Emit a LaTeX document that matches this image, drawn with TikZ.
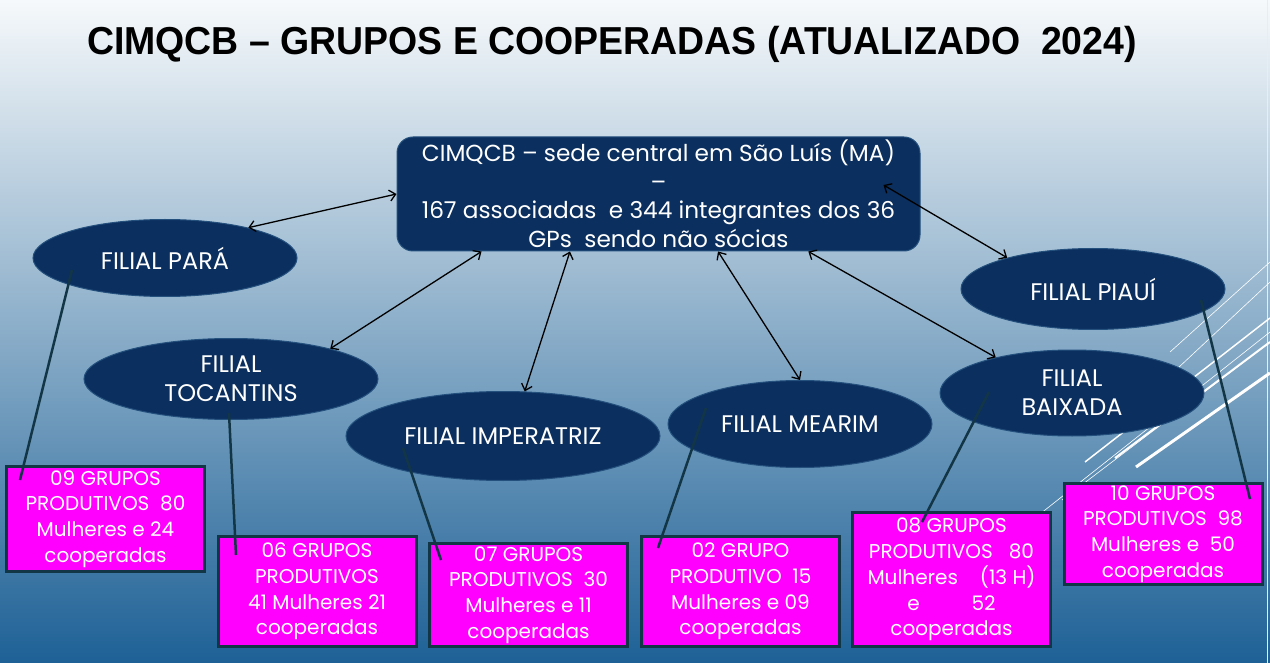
\documentclass[tikz,border=0pt]{standalone}
\usepackage{fontspec}
\setmainfont{Poppins}
\newfontfamily\titlefont{Liberation Sans}[FakeStretch=0.96]
\usetikzlibrary{shapes.geometric,arrows.meta}
\definecolor{navy}{HTML}{0B2F5E}
\definecolor{navyline}{HTML}{24507E}
\definecolor{pinkbox}{HTML}{FF00FF}
\definecolor{boxline}{HTML}{133646}
\definecolor{bgtop}{HTML}{F6F9FB}
\definecolor{bgmid}{HTML}{A9C5D9}
\definecolor{bgbot}{HTML}{1E6196}
\begin{document}
\begin{tikzpicture}[x=1pt,y=-1pt,
    filial/.style={ellipse,fill=navy,draw=navyline,line width=1pt,inner sep=0pt,
        text=white,font=\fontsize{24}{29}\selectfont,align=center},
    sede/.style={rectangle,rounded corners=16pt,fill=navy,draw=navyline,line width=1pt,
        minimum width=523pt,minimum height=114pt,inner sep=0pt,
        text=white,font=\fontsize{23.2}{28.5}\selectfont,align=center},
    grupo/.style={rectangle,fill=pinkbox,draw=boxline,line width=3pt,inner sep=0pt,
        minimum width=198pt,text=white,font=\fontsize{20}{25.8}\selectfont,align=center},
    seta/.style={{Straight Barb[length=6pt,width=11pt]}-{Straight Barb[length=6pt,width=11pt]},
        line width=1.3pt,black},
    liga/.style={line width=2.5pt,draw=boxline}]
    \useasboundingbox (0,0) rectangle (1270,663);
    \shade[shading angle=-10,top color=bgtop,middle color=bgmid,bottom color=bgbot]
        (0,0) rectangle (1270,663);
    \draw[white!85!gray,line width=1pt] (1267,0) -- (1267,663);
    \draw[white,line width=0.6pt] (1040,514) -- (1270,332);
    \draw[white,line width=0.6pt] (1062,500) -- (1270,342);
    \draw[white,line width=1.5pt] (1085,462) -- (1270,318);
    \draw[white,line width=2pt] (1115,458) -- (1270,342);
    \draw[white,line width=3pt] (1136,467) -- (1270,373);
    \draw[white,line width=0.6pt] (1170,352) -- (1270,262);
    \draw[white,line width=0.6pt] (1178,368) -- (1270,282);

    \node[font=\titlefont\fontsize{39}{44}\selectfont\bfseries] (titulo) at (612,44)
        {CIMQCB – GRUPOS E COOPERADAS (ATUALIZADO\ \ 2024)};

    \node[sede] (ctr) at (658.5,194) {CIMQCB – sede central em São Luís (MA)\\–\\
        167 associadas\ \ e 344 integrantes dos 36\\GPs\ \ sendo não sócias};

    \node[filial,minimum width=264pt,minimum height=77pt] (para) at (165,258) {FILIAL PARÁ};
    \node[filial,minimum width=294pt,minimum height=81pt] (toc) at (231,379) {FILIAL\\TOCANTINS};
    \node[filial,minimum width=314pt,minimum height=89pt] (imp) at (503,436) {FILIAL IMPERATRIZ};
    \node[filial,minimum width=264pt,minimum height=87pt] (mea) at (800,424) {FILIAL MEARIM};
    \node[filial,minimum width=264pt,minimum height=81pt] (pia) at (1093,289) {FILIAL PIAUÍ};
    \node[filial,minimum width=264pt,minimum height=86pt] (bai) at (1072,393) {FILIAL\\BAIXADA};

    \node[grupo,minimum height=105pt] (gpara) at (105.5,519)
        {09 GRUPOS\\PRODUTIVOS\ \ 80\\Mulheres e 24\\cooperadas};
    \node[grupo,minimum height=110pt] (gtoc) at (317,591.5)
        {06 GRUPOS\\PRODUTIVOS\\41 Mulheres 21\\cooperadas};
    \node[grupo,minimum height=103pt] (gimp) at (528.5,595)
        {07 GRUPOS\\PRODUTIVOS\ \ 30\\Mulheres e 11\\cooperadas};
    \node[grupo,minimum height=110pt] (gmea) at (740.5,591.5)
        {02 GRUPO\\PRODUTIVO\ \ 15\\Mulheres e 09\\cooperadas};
    \node[grupo,minimum height=134pt] (gbai) at (951.5,579.5)
        {08 GRUPOS\\PRODUTIVOS\ \ \ 80\\Mulheres\hspace{1.1em}(13 H)\\e\hspace{2.6em}52\\cooperadas};
    \node[grupo,minimum height=101pt] (gpia) at (1163,534)
        {10 GRUPOS\\PRODUTIVOS\ \ 98\\Mulheres e\ \ 50\\cooperadas};

    \draw[seta] (ctr.west) -- (para.20);
    \draw[seta] (ctr.-162) -- (toc.17);
    \draw[seta] (ctr.-147) -- (imp.64);
    \draw[seta] (ctr.-44) -- (mea.north);
    \draw[seta] (ctr.-21) -- (bai.155);
    \draw[seta] ([xshift=-37pt,yshift=9pt]ctr.east) -- (pia.160);

    \draw[liga] ([shift={(-93,12)}]para.center) -- ([shift={(-85.5,-39)}]gpara.center);
    \draw[liga] ([shift={(-2,34)}]toc.center) -- ([shift={(-81,-36.5)}]gtoc.center);
    \draw[liga] ([shift={(-100,12)}]imp.center) -- ([shift={(-87.5,-35)}]gimp.center);
    \draw[liga] ([shift={(-94,-16)}]mea.center) -- ([shift={(-82.5,-43.5)}]gmea.center);
    \draw[liga] ([shift={(-83,-1)}]bai.center) -- ([shift={(-29.5,-57.5)}]gbai.center);
    \draw[liga] ([shift={(108,11)}]pia.center) -- ([shift={(87,-35)}]gpia.center);
\end{tikzpicture}
\end{document}
